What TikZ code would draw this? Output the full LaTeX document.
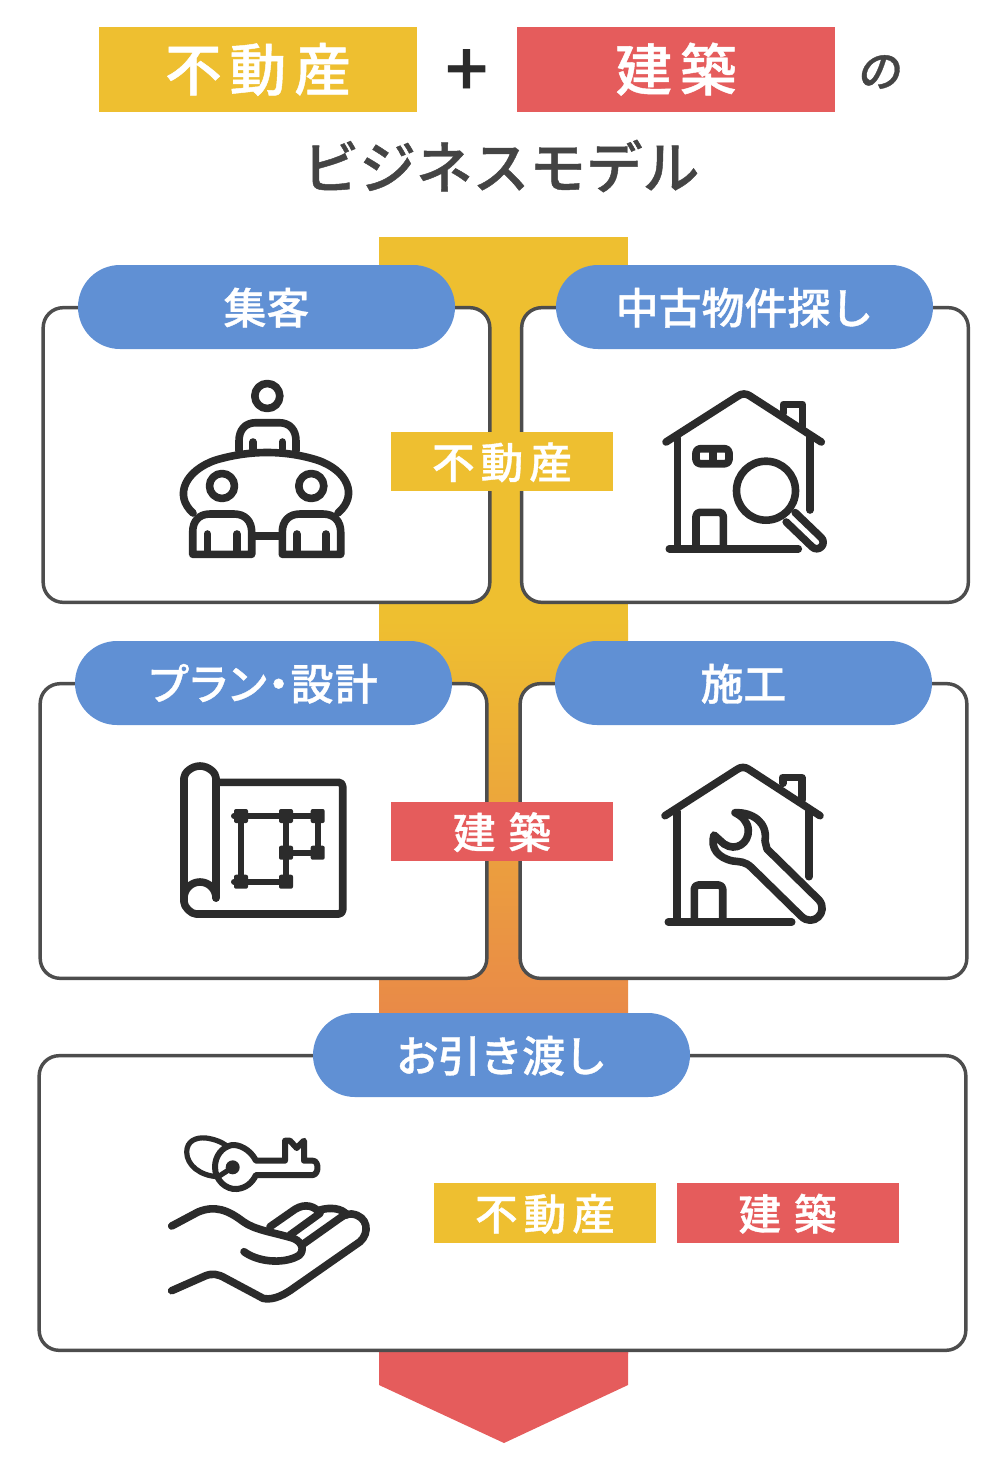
\documentclass[tikz,border=0pt]{standalone}
\usepackage{fontspec}
\setmainfont{Noto Sans CJK JP}[BoldFont={Noto Sans CJK JP Medium},BoldFeatures={FakeBold=0.8}]
\definecolor{flowyellow}{RGB}{238,191,48}
\definecolor{flowred}{RGB}{229,92,92}
\definecolor{pillblue}{RGB}{96,144,212}
\definecolor{cardline}{RGB}{77,77,77}
\definecolor{titlegrey}{RGB}{68,68,68}
\definecolor{iconink}{RGB}{43,43,43}
\tikzset{
  every picture/.style={line width=0.75pt},
  card/.style={draw=cardline,line width=2.6pt,fill=white,rounded corners=15pt,inner sep=0pt},
  pill/.style={fill=pillblue,text=white,rounded corners=31.5pt,inner sep=0pt,minimum width=282.75pt,minimum height=63pt,text height=25.5pt,text depth=0pt,font=\bfseries\fontsize{32.2}{32.2}\selectfont},
  tag/.style={text=white,inner sep=0pt,minimum width=166.5pt,minimum height=44.5pt,text height=25.5pt,text depth=0pt,font=\bfseries\fontsize{32}{32}\selectfont},
  headtag/.style={text=white,inner sep=0pt,minimum width=238.5pt,minimum height=63.75pt,text height=32pt,text depth=0pt,font=\bfseries\fontsize{42.5}{42.5}\selectfont},
  icon/.style={draw=iconink,line width=5.7pt,line cap=round,line join=round},
  plandot/.style={fill=iconink,rounded corners=1.5pt,inner sep=0pt,minimum size=10.5pt},
}

\begin{document}
\begin{tikzpicture}[x=0.75pt,y=0.75pt,yscale=-1,xscale=1]
\useasboundingbox (0,0) rectangle (1005,1470);

%Shape: flow band
\fill [flowyellow] (379,237) rectangle (628,621);
\shade [top color=flowyellow,bottom color=flowred] (379,620) rectangle (628,1353);
\fill [flowred] (379,1352) -- (628,1352) -- (628,1385) -- (504,1443) -- (379,1385) -- cycle;

% Head row
\node [headtag,fill=flowyellow] (headestate) at (258,69.5) {\addfontfeature{LetterSpace=14}不動産\hspace{3pt}};
\node [text=iconink,inner sep=0pt,font=\bfseries\fontsize{56}{56}\selectfont] (headplus) at (466.5,73) {+};
\node [headtag,fill=flowred] (headbuild) at (676,69.5) {\addfontfeature{LetterSpace=14}建築\hspace{1.5pt}};
\node [text=titlegrey,inner sep=0pt,font=\bfseries\fontsize{33}{33}\selectfont,xslant=0.15] (headno) at (881,72) {の};
\node [text=titlegrey,inner sep=0pt,font=\bfseries\fontsize{42.5}{42.5}\selectfont] (headtitle) at (501,166) {ビジネスモデル};

% Cards
\node [card,minimum width=335pt,minimum height=221pt] (cardvisit) at (266.5,455) {};
\node [card,minimum width=335pt,minimum height=221pt] (cardsearch) at (745,455) {};
\node [card,minimum width=335pt,minimum height=221pt] (cardplan) at (263.5,831) {};
\node [card,minimum width=335pt,minimum height=221pt] (cardwork) at (743.5,831) {};
\node [card,minimum width=695pt,minimum height=221pt] (cardhand) at (502.5,1203) {};

% Pills
\node [pill] (pillvisit) at (266.5,307) {集客};
\node [pill] (pillsearch) at (744.5,307) {中古物件探し};
\node [pill] (pillplan) at (263.5,683) {\addfontfeature{RawFeature=+palt,LetterSpace=3}プラン・設計};
\node [pill] (pillwork) at (743.5,683) {施工};
\node [pill] (pillhand) at (501.5,1055) {\addfontfeature{LetterSpace=-2}お引き渡し};

% Tags
\node [tag,fill=flowyellow] (tagestateA) at (502,461.5) {\addfontfeature{LetterSpace=14}不動産};
\node [tag,fill=flowred] (tagbuildA) at (502,831.5) {\addfontfeature{LetterSpace=30}建築};
\node [tag,fill=flowyellow] (tagestateB) at (545,1213) {\addfontfeature{LetterSpace=14}不動産};
\node [tag,fill=flowred] (tagbuildB) at (787.5,1213) {\addfontfeature{LetterSpace=30}建築};

%Shape: people round a table
\draw [icon] (267.3,396) circle (12.5);
\draw [icon] (239,451) -- (239,441) .. controls (239,430) and (245,422.7) .. (256,422.7) -- (279,422.7) .. controls (290,422.7) and (296,430) .. (296,441) -- (296,451);
\draw [icon] (253,442) -- (253,449) (282.3,442) -- (282.3,449);
\draw [icon] (193,513) .. controls (173,495) and (186,470) .. (216,460) .. controls (250,450) and (285,450) .. (317,460) .. controls (347,470) and (359,495) .. (338,513);
\draw [icon] (222,486) circle (12.5) (311.3,486) circle (12.5);
\draw [icon] (192.7,532) .. controls (192.7,521) and (199,514) .. (210,514) -- (234,514) .. controls (245,514) and (251.7,521) .. (251.7,532) -- (251.7,554.3) -- (192.7,554.3) -- cycle;
\draw [icon] (282.3,532) .. controls (282.3,521) and (289,514) .. (300,514) -- (323,514) .. controls (334,514) and (340.7,521) .. (340.7,532) -- (340.7,554.3) -- (282.3,554.3) -- cycle;
\draw [icon] (207.3,534) -- (207.3,554) (236.7,534) -- (236.7,554) (296.7,534) -- (296.7,554) (326,534) -- (326,554);
\draw [icon] (253,536) -- (280,536);

%Shape: house with magnifier
\draw [icon] (666,442) -- (738,396) .. controls (742,393.3) and (746,393.3) .. (750,396) -- (821.3,442);
\draw [icon] (783.3,413) -- (783.3,404.3) -- (802.3,404.3) -- (802.3,426.7);
\draw [icon] (677.3,438) -- (677.3,548) (810,437) -- (810,510);
\draw [icon] (669.3,548.7) -- (798.3,548.7);
\draw [icon,rounded corners=3pt] (696,448.7) rectangle (729,463.7);
\draw [icon] (712.7,449) -- (712.7,463);
\draw [icon,rounded corners=3pt] (696,548) -- (696,512.3) -- (723.3,512.3) -- (723.3,548);
\draw [icon] (766,490.7) circle (29.5);
\draw [icon] (795.2,512.6) -- (821.2,537.6) arc [start angle=-46,end angle=134,radius=6.5] -- (786.2,522);

%Shape: plan sheet
\draw [icon,rounded corners=3pt] (216,898) -- (216,782) arc [start angle=0,end angle=-180,radius=16] -- (184,898) arc [start angle=180,end angle=90,radius=16] -- (342.7,914) -- (342.7,782.3) -- (216,782.3);
\draw [icon] (184,898) arc [start angle=-180,end angle=0,radius=16];
\node [plandot] (planA) at (241,816) {};
\node [plandot] (planB) at (286,816) {};
\node [plandot] (planC) at (317.7,816) {};
\node [plandot] (planD) at (286,852.7) {};
\node [plandot] (planE) at (317.7,852.7) {};
\node [plandot] (planF) at (241,881.7) {};
\node [plandot] (planG) at (286,881.7) {};
\draw [icon,line width=4.5pt,line cap=butt] (planA.center) -- (planB.center) -- (planC.center) -- (planE.center) -- (planD.center) -- (planG.center) -- (planF.center) -- (planA.center) (planB.center) -- (planD.center);
\draw [icon,line width=4.5pt] (planA.center) -- +(-7,0) (planF.center) -- +(-7,0);

%Shape: house with wrench
\draw [icon] (665,815.7) -- (737,769.5) .. controls (741,766.7) and (745,766.7) .. (749,769.5) -- (820,815.7);
\draw [icon] (782.7,783.3) -- (782.7,777.3) -- (801.7,777.3) -- (801.7,800);
\draw [icon] (676.7,811.7) -- (676.7,921.7) (809,810) -- (809,876.7);
\draw [icon] (668.3,922) -- (791.7,922);
\draw [icon,rounded corners=3pt] (694.3,922) -- (694.3,885) -- (722.7,885) -- (722.7,922);
\draw [icon] (735,812.7) .. controls (752,812) and (768,822) .. (765,841) -- (767,849) -- (819,900) .. controls (829,912) and (813,928) .. (801,916) -- (752,868) .. controls (745,861) and (740,862) .. (733,861) .. controls (718,858) and (710,848) .. (714,835) -- (724,844) .. controls (736,852) and (749,843) .. (748.3,830) .. controls (748,822) and (742,816) .. (735,812.7) -- cycle;

%Shape: hand and key
\draw [icon,line width=3.9pt] (218.3,1176.7) .. controls (200,1176) and (186.7,1165) .. (186.7,1152) .. controls (186.7,1141) and (196,1137) .. (206,1138) .. controls (214,1139) and (222,1142) .. (227,1146);
\draw [icon,line width=3.9pt] (218.3,1176.7) -- (233,1167);
\fill [iconink] (232.7,1167.3) circle (7);
\draw [icon,line width=4.5pt] (256,1160.7) .. controls (250,1149) and (239,1144.5) .. (232,1145) .. controls (222,1147) and (215,1156) .. (215,1167) .. controls (215,1180) and (226,1190) .. (237,1189) .. controls (246,1188) and (252,1183) .. (256,1175) -- (313,1175) .. controls (319,1174) and (319,1161) .. (313,1160.7) -- (304,1160.7) -- (304,1140.7) -- (296.7,1148) -- (290,1140.7) -- (285,1140.7) -- (285,1160.7) -- cycle;
\draw [icon] (171.7,1226) -- (198,1212) .. controls (215,1205) and (228,1210) .. (243.3,1221.7) .. controls (255,1230) and (272,1232) .. (293.3,1238.3) .. controls (305,1243) and (304,1254) .. (296.7,1256.7) .. controls (282,1264) and (258,1262) .. (244,1251.7);
\draw [icon] (171.7,1290.7) -- (205,1276) .. controls (212,1273) and (218,1274) .. (225,1278) -- (263,1298.3) .. controls (270,1300) and (280,1298) .. (293.3,1288.3) -- (360,1241.7) .. controls (370,1233) and (368,1216) .. (352,1214) .. controls (345,1214) and (345,1215) .. (340,1218) -- (303.3,1244);
\draw [icon] (270,1226.7) -- (295,1209.3) .. controls (305,1203) and (315,1206) .. (320,1213.3) -- (290,1235);
\draw [icon] (320,1210) .. controls (330,1207) and (342,1208) .. (347,1215);
\end{tikzpicture}
\end{document}
